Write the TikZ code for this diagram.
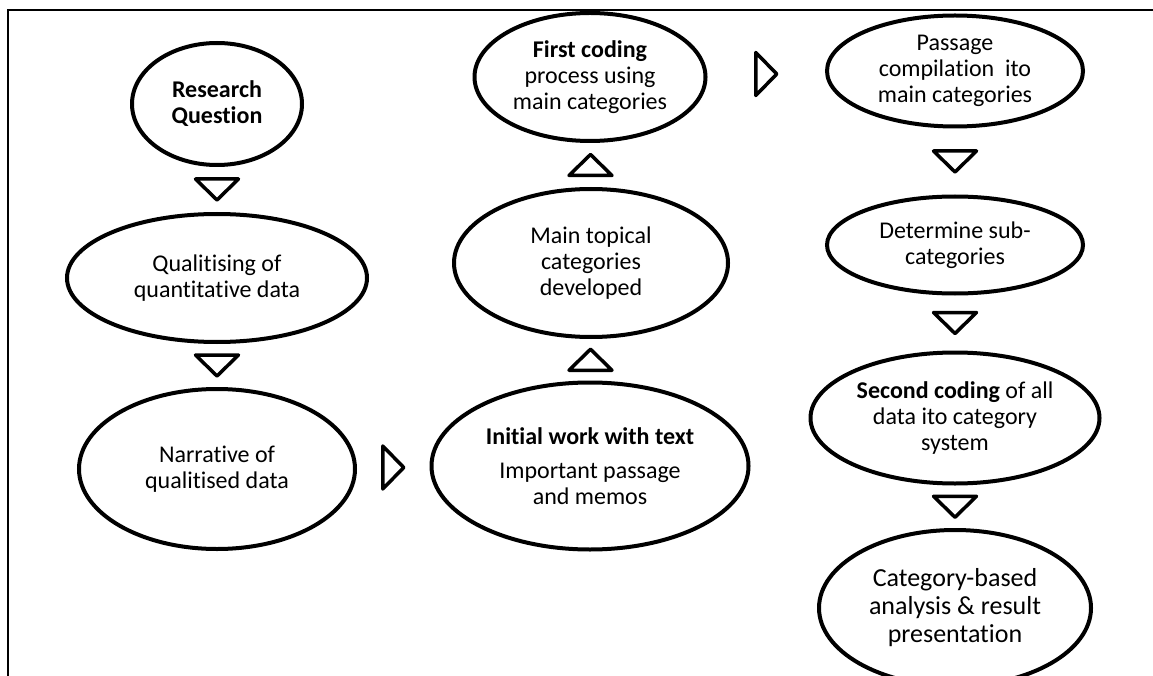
\documentclass[tikz,border=0pt]{standalone}
\usepackage{fontspec}
\setmainfont{Carlito}[Ligatures=NoCommon]
\usetikzlibrary{shapes.geometric,calc}
\begin{document}
\begin{tikzpicture}[x=1pt,y=-1pt,
  stage/.style={draw, ellipse, line width=4pt, fill=white, inner sep=0pt,
    align=center, font=\fontsize{24}{26}\selectfont},
  tri/.style={draw, line width=3.5pt, line join=round, fill=white},
  flow/.pic={\draw[tri] (-21.5,-10.5) -- (21.5,-10.5) -- (0,10.5) -- cycle;}
]
\useasboundingbox (0,0) rectangle (1153,676);
% page frame
\draw[line width=1.5pt] (1153,10) -- (8,10) -- (8,676);

% left column
\node[stage, minimum width=170, minimum height=122] (rq) at (217,104)
  {\textbf{Research}\\\textbf{Question}};
\node[stage, minimum width=300, minimum height=128] (qual) at (217,278)
  {Qualitising of\\quantitative data};
\node[stage, minimum width=276, minimum height=160] (narr) at (217,469)
  {Narrative of\\qualitised data};

% middle column
\node[stage, minimum width=317, minimum height=167] (init) at (590,466)
  {\textbf{Initial work with text}\\[8pt]Important passage\\and memos};
\node[stage, minimum width=274, minimum height=148] (main) at (591,263)
  {Main topical\\categories\\developed};
\node[stage, minimum width=231, minimum height=128] (first) at (590,77)
  {\textbf{First coding}\\process using\\main categories};

% right column
\node[stage, minimum width=256, minimum height=111] (pass) at (955,71)
  {Passage\\compilation~ ito\\main categories};
\node[stage, minimum width=256, minimum height=97] (sub) at (955,245)
  {Determine sub-\\categories};
\node[stage, minimum width=289, minimum height=131] (second) at (955,418)
  {\textbf{Second coding} of all\\data ito category\\system};
\node[stage, minimum width=272, minimum height=156,
  font=\fontsize{26}{28}\selectfont] (result) at (955,608)
  {Category-based\\analysis \& result\\presentation};

% flow markers between stages
\pic at ($(rq.south)!0.5!(qual.north)$) {flow};
\pic at ($(qual.south)!0.5!(narr.north)$) {flow};
\pic[rotate=90] at ($(narr.east)!0.5!(init.west)$) {flow};
\pic[rotate=180] at ($(init.north)!0.5!(main.south)$) {flow};
\pic[rotate=180] at ($(main.north)!0.5!(first.south)$) {flow};
\pic[rotate=90] at ($(first.east)!0.5!(pass.west)$) {flow};
\pic at ($(pass.south)!0.5!(sub.north)$) {flow};
\pic at ($(sub.south)!0.5!(second.north)$) {flow};
\pic at ($(second.south)!0.5!(result.north)$) {flow};
\end{tikzpicture}
\end{document}
